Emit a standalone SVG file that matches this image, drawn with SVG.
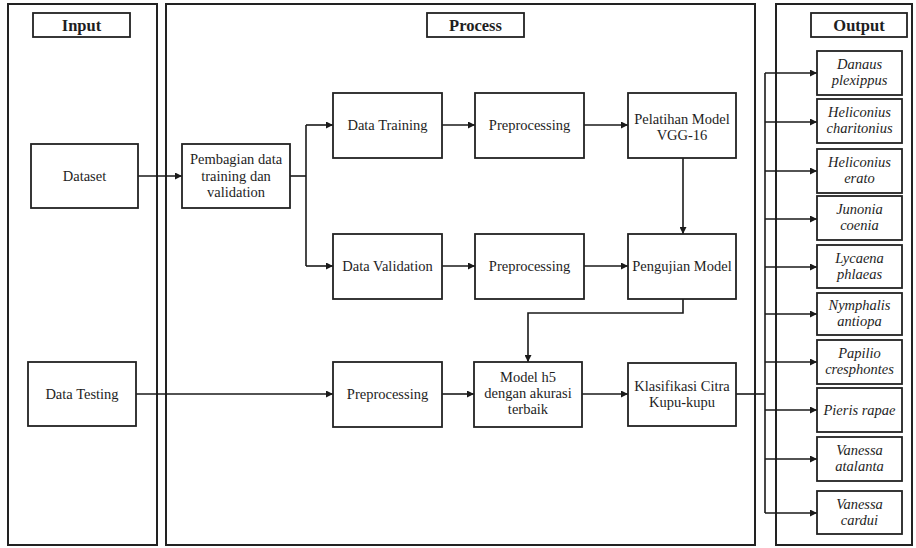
<svg xmlns="http://www.w3.org/2000/svg" width="916" height="548" viewBox="0 0 916 548">
<defs>
<marker id="ah" viewBox="0 0 10 10" refX="10" refY="5" markerWidth="7" markerHeight="7" markerUnits="userSpaceOnUse" orient="auto">
<path d="M0,0 L10,5 L0,10 z" fill="#1a1a1a"/>
</marker>
<style>
.panel{fill:none;stroke:#222;stroke-width:2}
.box{fill:#fff;stroke:#222;stroke-width:1.8}
.t{font-family:"Liberation Serif","Times New Roman",serif;font-size:14.5px;fill:#1e1e1e;text-anchor:middle}
.h{font-family:"Liberation Serif","Times New Roman",serif;font-size:16.5px;font-weight:bold;fill:#1e1e1e;text-anchor:middle}
.i{font-style:italic}
.c{fill:none;stroke:#1a1a1a;stroke-width:1.6}
.a{marker-end:url(#ah)}
</style>
</defs>
<rect width="916" height="548" fill="#fff"/>
<g id="panels">
<rect class="panel" x="8" y="4" width="149" height="541"/>
<rect class="panel" x="166" y="4" width="589" height="541"/>
<rect class="panel" x="776" y="4" width="136" height="541"/>
</g>
<g id="titles">
<g id="title-input"><rect class="box" x="33" y="13" width="97" height="24"/><text class="h" x="81.5" y="31">Input</text></g>
<g id="title-process"><rect class="box" x="427" y="13" width="97" height="24"/><text class="h" x="475.5" y="31">Process</text></g>
<g id="title-output"><rect class="box" x="811" y="13" width="96" height="24"/><text class="h" x="859" y="31">Output</text></g>
</g>
<g id="connectors">
<path class="c a" d="M138,176 H182"/>
<path class="c" d="M290,176 H306"/>
<path class="c" d="M306,125 V266"/>
<path class="c a" d="M306,125 H333"/>
<path class="c a" d="M306,266 H333"/>
<path class="c a" d="M442,125 H475"/>
<path class="c a" d="M584,125 H628"/>
<path class="c a" d="M683,158 V234"/>
<path class="c a" d="M442,266 H475"/>
<path class="c a" d="M584,266 H628"/>
<path class="c a" d="M683,299 V313 H528 V362"/>
<path class="c a" d="M136,394 H333"/>
<path class="c a" d="M442,394 H474"/>
<path class="c a" d="M582,394 H628"/>
<path class="c" d="M736,394 H765"/>
<path class="c" d="M765,73 V513"/>
<path class="c a" d="M765,73 H817"/>
<path class="c a" d="M765,122 H817"/>
<path class="c a" d="M765,171 H817"/>
<path class="c a" d="M765,219 H817"/>
<path class="c a" d="M765,267 H817"/>
<path class="c a" d="M765,314 H817"/>
<path class="c a" d="M765,362 H817"/>
<path class="c a" d="M765,410 H817"/>
<path class="c a" d="M765,459 H817"/>
<path class="c a" d="M765,513 H817"/>
</g>
<g id="dataset"><rect class="box" x="31" y="144" width="107" height="64"/><text class="t" x="84.5" y="181">Dataset</text></g>
<g id="pembagian"><rect class="box" x="182" y="144" width="108" height="64"/><text class="t" x="236" y="164">Pembagian data</text><text class="t" x="236" y="180.5">training dan</text><text class="t" x="236" y="197">validation</text></g>
<g id="data-training"><rect class="box" x="333" y="93" width="109" height="65"/><text class="t" x="387.5" y="130">Data Training</text></g>
<g id="preprocessing-1"><rect class="box" x="475" y="93" width="109" height="65"/><text class="t" x="529.5" y="130">Preprocessing</text></g>
<g id="pelatihan"><rect class="box" x="628" y="93" width="108" height="65"/><text class="t" x="682" y="124">Pelatihan Model</text><text class="t" x="682" y="140">VGG-16</text></g>
<g id="data-validation"><rect class="box" x="333" y="234" width="109" height="65"/><text class="t" x="387.5" y="271">Data Validation</text></g>
<g id="preprocessing-2"><rect class="box" x="475" y="234" width="109" height="65"/><text class="t" x="529.5" y="271">Preprocessing</text></g>
<g id="pengujian"><rect class="box" x="628" y="234" width="108" height="65"/><text class="t" x="682" y="271">Pengujian Model</text></g>
<g id="data-testing"><rect class="box" x="28" y="362" width="108" height="64"/><text class="t" x="82" y="399">Data Testing</text></g>
<g id="preprocessing-3"><rect class="box" x="333" y="362" width="109" height="65"/><text class="t" x="387.5" y="399">Preprocessing</text></g>
<g id="model-h5"><rect class="box" x="474" y="362" width="108" height="65"/><text class="t" x="528" y="382">Model h5</text><text class="t" x="528" y="398">dengan akurasi</text><text class="t" x="528" y="414">terbaik</text></g>
<g id="klasifikasi"><rect class="box" x="628" y="363" width="108" height="63"/><text class="t" x="682" y="391">Klasifikasi Citra</text><text class="t" x="682" y="407">Kupu-kupu</text></g>
<g id="out-danaus"><rect class="box" x="817" y="51" width="85" height="44"/><text class="t i" x="859.5" y="69">Danaus</text><text class="t i" x="859.5" y="85">plexippus</text></g>
<g id="out-heliconius-charitonius"><rect class="box" x="817" y="99" width="85" height="44"/><text class="t i" x="859.5" y="117">Heliconius</text><text class="t i" x="859.5" y="133">charitonius</text></g>
<g id="out-heliconius-erato"><rect class="box" x="817" y="149" width="85" height="44"/><text class="t i" x="859.5" y="167">Heliconius</text><text class="t i" x="859.5" y="183">erato</text></g>
<g id="out-junonia"><rect class="box" x="817" y="196" width="85" height="44"/><text class="t i" x="859.5" y="214">Junonia</text><text class="t i" x="859.5" y="230">coenia</text></g>
<g id="out-lycaena"><rect class="box" x="817" y="245" width="85" height="43"/><text class="t i" x="859.5" y="263">Lycaena</text><text class="t i" x="859.5" y="279">phlaeas</text></g>
<g id="out-nymphalis"><rect class="box" x="817" y="293" width="85" height="42"/><text class="t i" x="859.5" y="310">Nymphalis</text><text class="t i" x="859.5" y="326">antiopa</text></g>
<g id="out-papilio"><rect class="box" x="817" y="340" width="85" height="44"/><text class="t i" x="859.5" y="358">Papilio</text><text class="t i" x="859.5" y="374">cresphontes</text></g>
<g id="out-pieris"><rect class="box" x="817" y="388" width="85" height="44"/><text class="t i" x="859.5" y="415">Pieris rapae</text></g>
<g id="out-vanessa-atalanta"><rect class="box" x="817" y="437" width="85" height="44"/><text class="t i" x="859.5" y="455">Vanessa</text><text class="t i" x="859.5" y="471">atalanta</text></g>
<g id="out-vanessa-cardui"><rect class="box" x="817" y="491" width="85" height="43"/><text class="t i" x="859.5" y="509">Vanessa</text><text class="t i" x="859.5" y="525">cardui</text></g>
</svg>
